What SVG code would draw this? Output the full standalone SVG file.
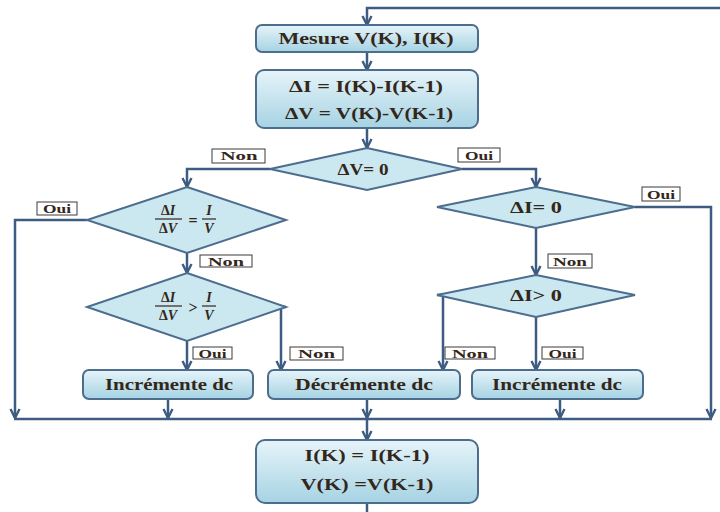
<svg xmlns="http://www.w3.org/2000/svg" width="720" height="512" viewBox="0 0 720 512">
<defs>
<linearGradient id="gb" x1="0" y1="0" x2="0" y2="1">
<stop offset="0" stop-color="#e6f4f9"/>
<stop offset="1" stop-color="#a6d3e3"/>
</linearGradient>
<marker id="ar" markerUnits="userSpaceOnUse" viewBox="0 0 12 12" markerWidth="12" markerHeight="12" refX="10.5" refY="6" orient="auto">
<path d="M1.5,1.5 L10.5,6 L1.5,10.5" fill="none" stroke="#3e5c82" stroke-width="2.4"/>
</marker>
<style>
.box{fill:url(#gb);stroke:#4c6d8e;stroke-width:2}
.dia{fill:#cbe7f0;stroke:#4c6d8e;stroke-width:2}
.c{fill:none;stroke:#3e5c82;stroke-width:2.5}
.a{marker-end:url(#ar)}
.t{font-family:"Liberation Serif",serif;font-weight:bold;font-size:16px;fill:#33261a;text-anchor:middle}
.f{font-family:"Liberation Serif",serif;font-weight:bold;font-size:14px;fill:#33261a;text-anchor:middle}
.lb{fill:#ffffff;stroke:#3a3a3a;stroke-width:1}
.lt{font-family:"Liberation Serif",serif;font-weight:bold;font-size:13px;fill:#33261a;text-anchor:middle}
.fb{stroke:#33261a;stroke-width:1.2}
</style>
</defs>
<rect width="720" height="512" fill="#ffffff"/>

<g id="connectors">
<path class="c a" d="M720,8 H367 V25"/>
<path class="c a" d="M367,52 V70"/>
<path class="c a" d="M367,128 V148"/>
<path class="c a" d="M270,169 H187 V187"/>
<path class="c a" d="M462,169 H536 V187"/>
<path class="c a" d="M87,220 H15 V418"/>
<path class="c a" d="M187,253 V273"/>
<path class="c a" d="M286,307 H281 V370"/>
<path class="c a" d="M187,341 V370"/>
<path class="c a" d="M168,399 V418"/>
<path class="c a" d="M367,399 V418"/>
<path class="c a" d="M367,418 V440"/>
<path class="c a" d="M560,399 V418"/>
<path class="c a" d="M635,207 H711 V418"/>
<path class="c" d="M14,419 H712"/>
<path class="c a" d="M536,228 V275"/>
<path class="c a" d="M437,295 H443 V370"/>
<path class="c a" d="M536,317 V370"/>
<path class="c" d="M367,503 V512"/>
</g>

<g id="n_mesure">
<rect class="box" x="256" y="25" width="222" height="27" rx="6"/>
<text class="t" x="366" y="44" textLength="175" lengthAdjust="spacingAndGlyphs">Mesure V(K), I(K)</text>
</g>
<g id="n_delta">
<rect class="box" x="256" y="70" width="222" height="58" rx="8"/>
<text class="t" x="366" y="92" textLength="154" lengthAdjust="spacingAndGlyphs">ΔI = I(K)-I(K-1)</text>
<text class="t" x="369" y="119" textLength="168" lengthAdjust="spacingAndGlyphs">ΔV = V(K)-V(K-1)</text>
</g>
<g id="n_dv0">
<polygon class="dia" points="367,148 462,169 367,190 270,169"/>
<text class="t" x="363" y="175" textLength="51" lengthAdjust="spacingAndGlyphs">ΔV= 0</text>
</g>
<g id="n_eq">
<polygon class="dia" points="187,187 286,220 187,253 87,220"/>
<text class="f" x="168" y="215">Δ<tspan font-style="italic">I</tspan></text>
<line class="fb" x1="155" y1="219" x2="182" y2="219"/>
<text class="f" x="168" y="233">Δ<tspan font-style="italic">V</tspan></text>
<text class="t" x="193" y="226">=</text>
<text class="f" x="209" y="215" font-style="italic">I</text>
<line class="fb" x1="202" y1="219" x2="216" y2="219"/>
<text class="f" x="209" y="233" font-style="italic">V</text>
</g>
<g id="n_gt">
<polygon class="dia" points="187,273 286,307 187,341 87,307"/>
<text class="f" x="168" y="302">Δ<tspan font-style="italic">I</tspan></text>
<line class="fb" x1="155" y1="306" x2="182" y2="306"/>
<text class="f" x="168" y="320">Δ<tspan font-style="italic">V</tspan></text>
<text class="t" x="193" y="313">&gt;</text>
<text class="f" x="209" y="302" font-style="italic">I</text>
<line class="fb" x1="202" y1="306" x2="216" y2="306"/>
<text class="f" x="209" y="320" font-style="italic">V</text>
</g>
<g id="n_di0">
<polygon class="dia" points="536,187 635,207 536,228 437,207"/>
<text class="t" x="536" y="213" textLength="52" lengthAdjust="spacingAndGlyphs">ΔI= 0</text>
</g>
<g id="n_digt">
<polygon class="dia" points="536,275 635,295 536,317 437,295"/>
<text class="t" x="536" y="301" textLength="52" lengthAdjust="spacingAndGlyphs">ΔI&gt; 0</text>
</g>
<g id="n_inc1">
<rect class="box" x="83" y="370" width="170" height="29" rx="6"/>
<text class="t" x="169" y="390" textLength="128" lengthAdjust="spacingAndGlyphs">Incrémente dc</text>
</g>
<g id="n_dec">
<rect class="box" x="268" y="370" width="192" height="29" rx="6"/>
<text class="t" x="364" y="390" textLength="138" lengthAdjust="spacingAndGlyphs">Décrémente dc</text>
</g>
<g id="n_inc2">
<rect class="box" x="472" y="370" width="171" height="29" rx="6"/>
<text class="t" x="557" y="390" textLength="130" lengthAdjust="spacingAndGlyphs">Incrémente dc</text>
</g>
<g id="n_update">
<rect class="box" x="256" y="440" width="222" height="63" rx="9"/>
<text class="t" x="367" y="461" textLength="125" lengthAdjust="spacingAndGlyphs">I(K) = I(K-1)</text>
<text class="t" x="367" y="490" textLength="133" lengthAdjust="spacingAndGlyphs">V(K) =V(K-1)</text>
</g>

<g id="labels">
<rect class="lb" x="212" y="149" width="53" height="14"/><text class="lt" x="239" y="160" textLength="37" lengthAdjust="spacingAndGlyphs">Non</text>
<rect class="lb" x="458" y="148" width="42" height="14"/><text class="lt" x="479" y="159.5" textLength="28" lengthAdjust="spacingAndGlyphs">Oui</text>
<rect class="lb" x="37" y="202" width="40" height="13"/><text class="lt" x="57" y="213" textLength="28" lengthAdjust="spacingAndGlyphs">Oui</text>
<rect class="lb" x="200" y="255" width="52" height="12"/><text class="lt" x="226" y="265.5" textLength="36" lengthAdjust="spacingAndGlyphs">Non</text>
<rect class="lb" x="290" y="347" width="53" height="13"/><text class="lt" x="316.5" y="358" textLength="37" lengthAdjust="spacingAndGlyphs">Non</text>
<rect class="lb" x="193" y="347" width="39" height="12"/><text class="lt" x="212.5" y="357.5" textLength="28" lengthAdjust="spacingAndGlyphs">Oui</text>
<rect class="lb" x="642" y="187" width="38" height="14"/><text class="lt" x="661" y="198.5" textLength="28" lengthAdjust="spacingAndGlyphs">Oui</text>
<rect class="lb" x="548" y="254" width="44" height="14"/><text class="lt" x="570" y="265.5" textLength="34" lengthAdjust="spacingAndGlyphs">Non</text>
<rect class="lb" x="445" y="347" width="50" height="12"/><text class="lt" x="470" y="357.5" textLength="36" lengthAdjust="spacingAndGlyphs">Non</text>
<rect class="lb" x="542" y="347" width="41" height="12"/><text class="lt" x="562.5" y="357.5" textLength="28" lengthAdjust="spacingAndGlyphs">Oui</text>
</g>
</svg>
